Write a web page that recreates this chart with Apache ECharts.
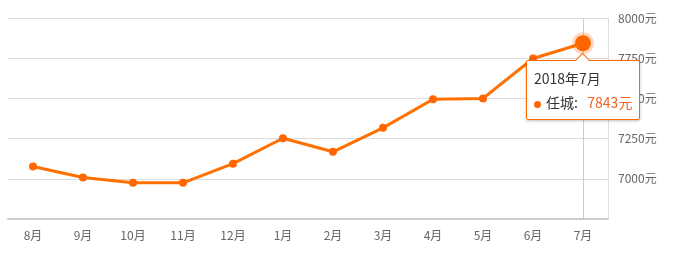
<!DOCTYPE html>
<html><head><meta charset="utf-8">
<script src="https://cdn.jsdelivr.net/npm/echarts@6/dist/echarts.min.js"></script>
<style>html,body{margin:0;padding:0;background:#fff}#c{width:686px;height:260px}</style>
</head><body><div id="c"></div>
<script>
var categories = ['8月','9月','10月','11月','12月','1月','2月','3月','4月','5月','6月','7月'];
var fullDates = ['2017年8月','2017年9月','2017年10月','2017年11月','2017年12月','2018年1月','2018年2月','2018年3月','2018年4月','2018年5月','2018年6月','2018年7月'];
var seriesName = '任城';
var prices = [7077, 7008, 6975, 6975, 7094, 7252, 7168, 7317, 7495, 7500, 7748, 7843];
var yMin = 6750, yMax = 8000, yStep = 250;

var chart = echarts.init(document.getElementById('c'));
var font = '"Noto Sans CJK SC", "Microsoft YaHei", sans-serif';
chart.setOption({
  animation: false,
  textStyle: {fontFamily: font},
  grid: {left: 8, right: 78, top: 18, bottom: 41},
  tooltip: {
    trigger: 'axis',
    backgroundColor: '#fff',
    borderColor: '#f60',
    borderWidth: 1,
    borderRadius: 2,
    padding: [5, 7, 5, 7],
    extraCssText: 'box-shadow:0 1px 3px rgba(0,0,0,0.25);overflow:visible;',
    position: function (point, params, dom, rect, size) {
      return [point[0] - size.contentSize[0] / 2, point[1] + 17];
    },
    axisPointer: {type: 'line', z: 0, lineStyle: {color: '#ccc', width: 1, type: 'solid'}},
    formatter: function (ps) {
      var p = ps[0];
      return '<div style="position:relative;font-family:' + font.replace(/"/g, "'") + ';font-size:14px;color:#333;line-height:24px">' +
        '<div style="position:absolute;left:50%;top:-11px;margin-left:-6px;width:10px;height:10px;background:#fff;border-left:1px solid #f60;border-top:1px solid #f60;transform:rotate(45deg)"></div>' +
        fullDates[p.dataIndex] + '<br/>' +
        '<span style="display:inline-block;width:7px;height:7px;border-radius:50%;background:#f60;margin-right:5px;vertical-align:middle"></span>' +
        seriesName + ':&nbsp;&nbsp;&nbsp;<span style="color:#f26522">' + p.value + '元</span></div>';
    }
  },
  xAxis: {
    type: 'category',
    data: categories,
    boundaryGap: true,
    axisLine: {lineStyle: {color: '#ccc', width: 2}},
    axisTick: {alignWithLabel: true, lineStyle: {color: '#ddd'}, length: 5},
    axisLabel: {color: '#666', fontSize: 12, margin: 10}
  },
  yAxis: {
    type: 'value',
    position: 'right',
    min: yMin, max: yMax, interval: yStep,
    axisLine: {show: true, lineStyle: {color: '#ddd', width: 1}},
    axisTick: {show: false},
    splitLine: {lineStyle: {color: '#ddd'}},
    axisLabel: {color: '#666', fontSize: 12, margin: 10, showMinLabel: false,
      formatter: function (v) { return v + '元'; }}
  },
  series: [{
    name: seriesName,
    type: 'line',
    z: 5,
    data: prices,
    symbol: 'circle',
    symbolSize: 8,
    lineStyle: {color: '#f60', width: 3},
    itemStyle: {color: '#f60'},
    emphasis: {
      scale: 2,
      itemStyle: {color: '#f60', borderColor: 'rgba(255,102,0,0.25)', borderWidth: 6}
    }
  }]
});
chart.dispatchAction({type: 'showTip', seriesIndex: 0, dataIndex: prices.length - 1});
</script></body></html>
